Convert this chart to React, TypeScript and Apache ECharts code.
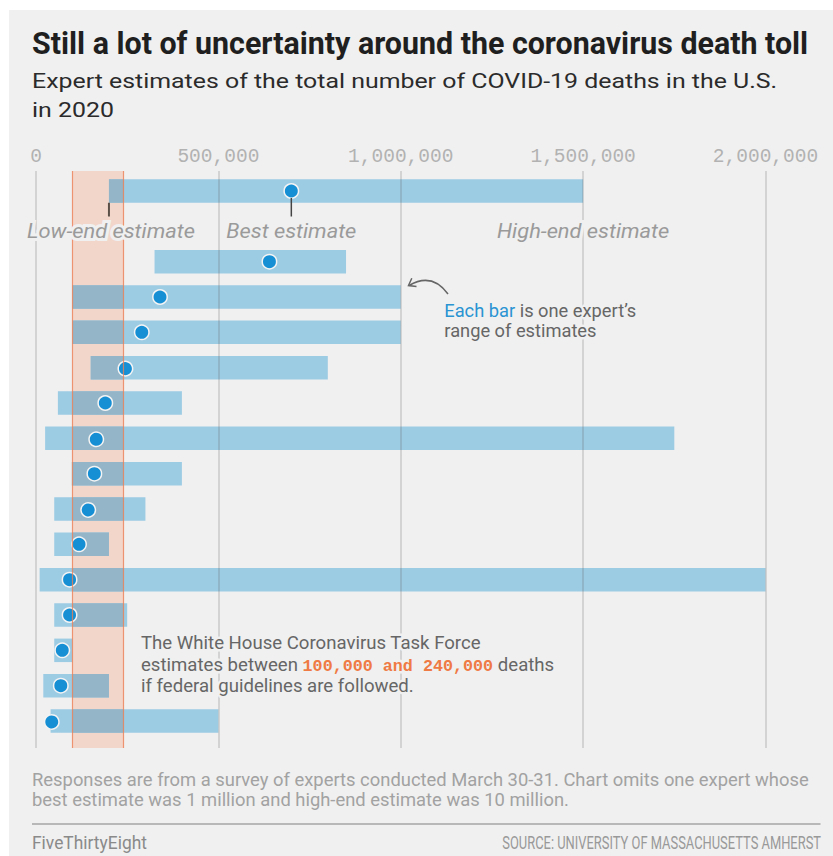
import React, { useEffect, useRef } from "react";
import * as echarts from "echarts";

// ---------- data ----------
const X_TICKS = [0, 500000, 1000000, 1500000, 2000000];
const EXPERT_LOW = [200000, 325000, 100000, 100000, 150000, 60000, 25000, 98000, 50000, 50000, 10000, 50000, 50000, 20000, 40000];
const EXPERT_BEST = [700000, 640000, 340000, 290000, 245000, 190000, 165000, 160000, 143000, 118000, 92000, 92000, 72000, 68000, 43000];
const EXPERT_HIGH = [1500000, 850000, 1000000, 1000000, 800000, 400000, 1750000, 400000, 300000, 200000, 2000000, 250000, 100000, 200000, 500000];
const TASK_FORCE_RANGE = [100000, 240000];

const TITLE = "Still a lot of uncertainty around the coronavirus death toll";
const SUBTITLE = ["Expert estimates of the total number of COVID-19 deaths in the U.S.", "in 2020"];
const KEY_LABELS = ["Low-end estimate", "Best estimate", "High-end estimate"];
const NOTE_EACH = ["Each bar", " is one expert\u2019s", "range of estimates"];
const NOTE_WH = ["The White House Coronavirus Task Force", "estimates between ", "100,000 and 240,000", " deaths", "if federal guidelines are followed."];
const FOOTNOTE = [
  "Responses are from a survey of experts conducted March 30-31. Chart omits one expert whose",
  "best estimate was 1 million and high-end estimate was 10 million.",
];
const BRAND = "FiveThirtyEight";
const SOURCE = "SOURCE: UNIVERSITY OF MASSACHUSETTS AMHERST";

// ---------- style ----------
const BG = "#f0f0f0";
const BAR = "#9ccbe4";
const BAR_OVER_BAND = "#94b5c7";
const DOT = "#168fd4";
const BAND = "#f2d6ca";
const BAND_EDGE = "rgba(238,128,84,0.8)";
const F = "Roboto";
const MONO = '"Liberation Mono"';

const slotOf = (i: number) => (i === 0 ? 0 : i + 1);

const ctx = typeof document !== "undefined" ? document.createElement("canvas").getContext("2d") : null;
const mw = (t: string, font: string) => {
  if (!ctx) return t.length * 10;
  ctx.font = font;
  return ctx.measureText(t).width;
};

function txt(text: string, x: number, baseline: number, fs: number, font: string, fill: string, o: any = {}) {
  const central = o.mono ? 0.267 : 0.342;
  return {
    type: "text",
    x,
    y: baseline - central * fs,
    scaleX: o.scaleX ?? 1,
    z: 20,
    silent: true,
    style: {
      text,
      font,
      fill,
      align: o.align ?? "left",
      textAlign: o.align ?? "left",
      verticalAlign: "middle",
      textVerticalAlign: "middle",
      ...(o.halo ? { stroke: BG, lineWidth: o.haloW ?? 5 } : {}),
    },
  };
}

export default function App() {
  const ref = useRef<HTMLDivElement>(null);
  useEffect(() => {
    if (!ref.current) return;
    const chart = echarts.init(ref.current, null, { renderer: "svg" });
    const data = EXPERT_LOW.map((lo, i) => [slotOf(i), lo, EXPERT_BEST[i], EXPERT_HIGH[i]]);
    const BAR_H = 23.5;

    chart.setOption({
      animation: false,
      backgroundColor: "#ffffff",
      grid: { left: 36, width: 729.5, top: 171, height: 577 },
      xAxis: {
        type: "value",
        position: "top",
        min: X_TICKS[0],
        max: X_TICKS[X_TICKS.length - 1],
        interval: X_TICKS[1] - X_TICKS[0],
        z: 3,
        axisLine: { show: false },
        axisTick: { show: false },
        splitLine: { show: true, lineStyle: { color: "rgba(105,105,105,0.28)", width: 1.5 } },
        axisLabel: {
          margin: 4,
          color: "#b2b2b2",
          fontFamily: "Liberation Mono",
          fontSize: 19.5,
          lineHeight: 19.5,
          formatter: (v: number) => v.toLocaleString("en-US"),
        },
      },
      yAxis: { type: "value", inverse: true, min: -0.566, max: 15.764, show: false, splitLine: { show: false } },
      series: [
        {
          type: "custom",
          z: 2,
          clip: false,
          encode: { x: [1, 2, 3], y: 0 },
          data,
          renderItem: (params: any, api: any) => {
            const slot = api.value(0);
            const p0 = api.coord([api.value(1), slot]);
            const pb = api.coord([api.value(2), slot]);
            const p1 = api.coord([api.value(3), slot]);
            const b0 = api.coord([TASK_FORCE_RANGE[0], slot])[0];
            const b1 = api.coord([TASK_FORCE_RANGE[1], slot])[0];
            const y0 = p0[1] - BAR_H / 2;
            const children: any[] = [
              { type: "rect", shape: { x: p0[0], y: y0, width: p1[0] - p0[0], height: BAR_H }, style: { fill: BAR } },
            ];
            const ox0 = Math.max(p0[0], b0);
            const ox1 = Math.min(p1[0], b1);
            if (ox1 > ox0) {
              children.push({ type: "rect", shape: { x: ox0, y: y0, width: ox1 - ox0, height: BAR_H }, style: { fill: BAR_OVER_BAND } });
            }
            children.push({ type: "circle", z2: 10, shape: { cx: pb[0], cy: pb[1], r: 7.2 }, style: { fill: DOT, stroke: "#f4f4f4", lineWidth: 1.5 } });
            return { type: "group", children };
          },
          markArea: {
            silent: true,
            z: 1,
            itemStyle: { color: BAND, opacity: 1, borderWidth: 0 },
            data: [[{ xAxis: TASK_FORCE_RANGE[0] }, { xAxis: TASK_FORCE_RANGE[1] }]],
          },
          markLine: {
            silent: true,
            z: 5,
            symbol: ["none", "none"],
            label: { show: false },
            lineStyle: { color: BAND_EDGE, width: 1.2, type: "solid" },
            data: [{ xAxis: TASK_FORCE_RANGE[0] }, { xAxis: TASK_FORCE_RANGE[1] }],
          },
        },
      ],
    });

    // ---------- annotations ----------
    const px = (v: number, slot: number) => chart.convertToPixel({ gridIndex: 0 }, [v, slot]) as number[];
    const pLow = px(EXPERT_LOW[0], 0);
    const pBest = px(EXPERT_BEST[0], 0);
    const pHigh = px(EXPERT_HIGH[0], 0);

    const g: any[] = [];
    g.push({ type: "rect", z: -100, silent: true, shape: { x: 9, y: 10, width: 830, height: 850 }, style: { fill: BG } });

    // title & subtitle
    const titleFont = `bold 31px ${F}`;
    g.push(txt(TITLE, 32, 53.5, 31, titleFont, "#1f1f1f", { scaleX: 776 / mw(TITLE, titleFont) }));
    const subFont = `21px ${F}`;
    const subScale = 746 / mw(SUBTITLE[0], subFont);
    g.push(txt(SUBTITLE[0], 32, 88, 21, subFont, "#2b2b2b", { scaleX: subScale }));
    g.push(txt(SUBTITLE[1], 32, 117, 21, subFont, "#2b2b2b", { scaleX: subScale }));

    // key labels
    const keyFont = `italic 20.5px ${F}`;
    const keyScale = 168 / mw(KEY_LABELS[0], keyFont);
    const keyBase = 237.3;
    g.push({ type: "line", z: 15, silent: true, shape: { x1: pLow[0], y1: pLow[1] + BAR_H / 2, x2: pLow[0], y2: 216.5 }, style: { stroke: "#5a5048", lineWidth: 2 } });
    g.push({ type: "line", z: 15, silent: true, shape: { x1: pBest[0], y1: pBest[1] + 7, x2: pBest[0], y2: 216.5 }, style: { stroke: "#444444", lineWidth: 1.5 } });
    [pLow, pBest, pHigh].forEach((p, i) => {
      g.push(txt(KEY_LABELS[i], p[0] + (i === 0 ? 2 : 0), keyBase, 20.5, keyFont, "#9a9a9a", { align: "center", scaleX: keyScale, halo: true, haloW: 6 }));
    });

    // "Each bar" note
    const noteFont = `18.5px ${F}`;
    const eachScale = 192 / mw(NOTE_EACH[0] + NOTE_EACH[1], noteFont);
    const ex = 444.3;
    g.push(txt(NOTE_EACH[0], ex, 316.7, 18.5, noteFont, "#2a94d3", { scaleX: eachScale, halo: true }));
    g.push(txt(NOTE_EACH[1], ex + mw(NOTE_EACH[0], noteFont) * eachScale, 316.7, 18.5, noteFont, "#666666", { scaleX: eachScale, halo: true }));
    g.push(txt(NOTE_EACH[2], ex, 336.9, 18.5, noteFont, "#666666", { scaleX: eachScale, halo: true }));
    // curved arrow
    g.push({ type: "bezierCurve", z: 15, silent: true, shape: { x1: 448, y1: 294, cpx1: 432, cpy1: 272, x2: 409, y2: 285.5 }, style: { stroke: "#666666", lineWidth: 1.5, fill: "none" } });
    g.push({ type: "polyline", z: 15, silent: true, shape: { points: [[411.8, 278.2], [408.5, 285.5], [416.5, 286.4]] }, style: { stroke: "#666666", lineWidth: 1.5, fill: "none" } });

    // White House note
    const whFont = `17.6px ${F}`;
    const whScale = 340 / mw(NOTE_WH[0], whFont);
    const wx = 141;
    g.push(txt(NOTE_WH[0], wx, 649, 17.6, whFont, "#666666", { scaleX: whScale, halo: true }));
    g.push(txt(NOTE_WH[1], wx, 671, 17.6, whFont, "#666666", { scaleX: whScale, halo: true }));
    const monoFont = `bold 16.7px ${MONO}`;
    const mx = wx + mw(NOTE_WH[1], whFont) * whScale;
    const monoScale = 190.6 / mw(NOTE_WH[2], monoFont);
    g.push(txt(NOTE_WH[2], mx, 671, 16.7, monoFont, "#ef7a44", { scaleX: monoScale, halo: true, mono: true }));
    g.push(txt(NOTE_WH[3], mx + 190.6, 671, 17.6, whFont, "#666666", { scaleX: whScale, halo: true }));
    g.push(txt(NOTE_WH[4], wx, 692, 17.6, whFont, "#666666", { scaleX: whScale, halo: true }));

    // footnote
    const fnFont = `18.5px ${F}`;
    const fnScale = 777 / mw(FOOTNOTE[0], fnFont);
    g.push(txt(FOOTNOTE[0], 32, 786.7, 18.5, fnFont, "#a2a2a2", { scaleX: fnScale }));
    g.push(txt(FOOTNOTE[1], 32, 805.9, 18.5, fnFont, "#a2a2a2", { scaleX: fnScale }));
    g.push({ type: "line", z: 15, silent: true, shape: { x1: 32, y1: 824, x2: 820.5, y2: 824 }, style: { stroke: "#b8b8b8", lineWidth: 2 } });
    const brandFont = `17.5px ${F}`;
    g.push(txt(BRAND, 32, 849.3, 17.5, brandFont, "#8a8a8a", { scaleX: 115 / mw(BRAND, brandFont) }));
    const srcFont = `17.5px ${F}`;
    g.push(txt(SOURCE, 821, 849.3, 17.5, srcFont, "#999999", { align: "right", scaleX: 319 / mw(SOURCE, srcFont) }));

    chart.setOption({ graphic: { elements: g } });
    return () => chart.dispose();
  }, []);

  return <div ref={ref} style={{ position: "absolute", left: 0, top: 0, width: 833, height: 856 }} />;
}
